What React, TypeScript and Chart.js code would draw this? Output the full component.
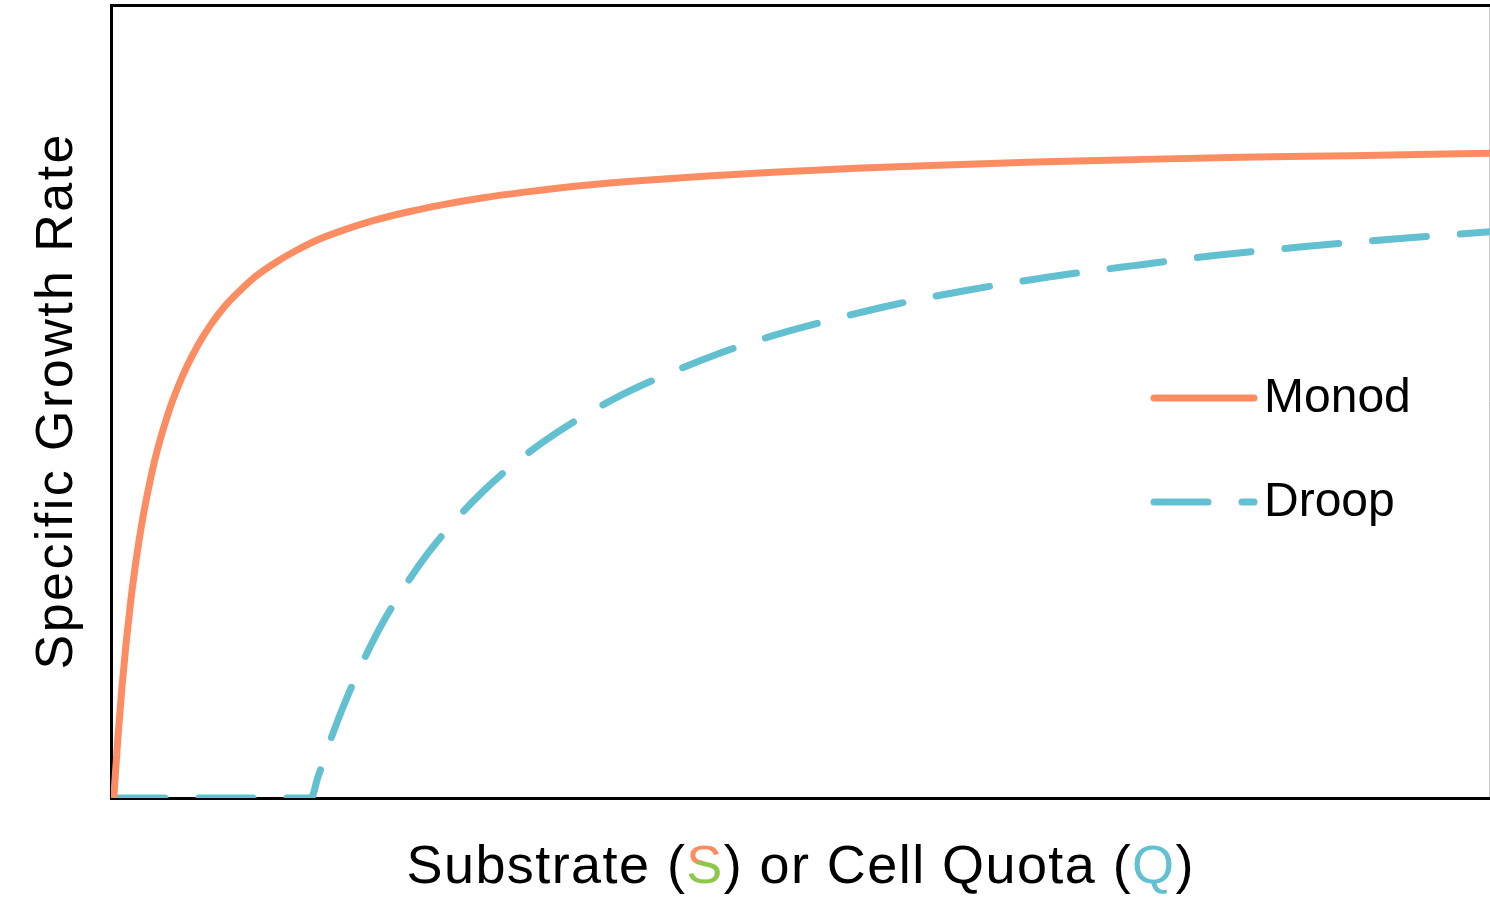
import React, { useEffect, useRef } from "react";
import { Chart, registerables } from "chart.js";

Chart.register(...registerables);

// Monod curve: substrate (S) vs specific growth rate (arbitrary units, 0-100)
const monodX = [0.2, 0.5, 0.8, 1.1, 1.4, 1.7, 2.0, 2.4, 2.8, 3.2, 3.7, 4.2, 4.8, 5.5, 6.3, 7.2, 8.2, 9.3, 10.5, 12, 13.5, 15, 17, 19, 21.5, 24, 27, 30, 34, 38, 43, 48, 54, 60, 67, 74, 82, 90, 100];
const monodY = [0, 7.6, 14.1, 19.6, 24.4, 28.5, 32.1, 36.2, 39.7, 42.8, 46.0, 48.8, 51.6, 54.4, 57.1, 59.6, 61.9, 63.9, 65.8, 67.6, 69.1, 70.4, 71.7, 72.8, 73.9, 74.8, 75.7, 76.4, 77.2, 77.8, 78.4, 78.9, 79.4, 79.8, 80.2, 80.5, 80.8, 81.0, 81.3];

// Droop curve: cell quota (Q) vs specific growth rate
const droopX = [0, 14.5, 15, 15.5, 16, 17, 18, 19, 20, 21.5, 23, 25, 27, 29, 31.5, 34, 37, 40, 44, 48, 52, 57, 62, 68, 74, 80, 87, 93, 100];
const droopY = [0, 0, 2.6, 5.1, 7.7, 12.2, 16.2, 19.8, 23.0, 27.2, 30.9, 35.1, 38.7, 41.8, 45.1, 47.9, 50.8, 53.2, 56.0, 58.3, 60.2, 62.3, 64.0, 65.7, 67.1, 68.4, 69.6, 70.5, 71.4];

const seriesLabels = ["Monod", "Droop"];
const yTitle = "Specific Growth Rate";
const xTitleParts = ["Substrate (", "S", ") or Cell Quota (", "Q", ")"];

const ORANGE = "#FC8D62";
const CYAN = "#62C0D0";
const GREEN = "#8CC84B";
const FONT = '"Liberation Sans", Arial, Helvetica, sans-serif';

function drawSpaced(
  ctx: CanvasRenderingContext2D,
  chars: { ch: string; color: string | null; special?: string }[],
  startX: number,
  baseY: number,
  spacing: number,
  onSpecial?: (ch: string, x: number, w: number) => void
) {
  let x = startX;
  for (const c of chars) {
    const w = ctx.measureText(c.ch).width;
    if (c.special && onSpecial) {
      onSpecial(c.ch, x, w);
    } else {
      ctx.fillStyle = c.color || "#000";
      ctx.fillText(c.ch, x, baseY);
    }
    x += w + spacing;
  }
}

const framePlugin = {
  id: "frame",
  beforeDatasetsDraw(chart: any) {
    const { ctx, chartArea } = chart;
    const { left, top, right, bottom } = chartArea;
    ctx.save();
    ctx.strokeStyle = "#c8c8c8";
    ctx.lineWidth = 1;
    ctx.beginPath();
    ctx.moveTo(right - 0.5, top);
    ctx.lineTo(right - 0.5, bottom);
    ctx.stroke();
    ctx.strokeStyle = "#000";
    ctx.lineWidth = 3;
    ctx.lineCap = "square";
    ctx.beginPath();
    ctx.moveTo(right, top + 0.5);
    ctx.lineTo(left + 0.5, top + 0.5);
    ctx.lineTo(left + 0.5, bottom + 0.5);
    ctx.lineTo(right, bottom + 0.5);
    ctx.stroke();
    ctx.restore();
  },
  afterDraw(chart: any) {
    const { ctx } = chart;
    ctx.save();
    // Legend
    const ds = chart.data.datasets;
    const legendX0 = 1154;
    const legendX1 = 1254;
    const rows = [398, 502];
    ctx.font = `48px ${FONT}`;
    ctx.textBaseline = "middle";
    ds.forEach((d: any, i: number) => {
      const y = rows[i];
      ctx.strokeStyle = d.borderColor;
      ctx.lineWidth = d.borderWidth;
      ctx.lineCap = "round";
      ctx.setLineDash(d.borderDash || []);
      ctx.beginPath();
      ctx.moveTo(legendX0, y);
      ctx.lineTo(legendX1, y);
      ctx.stroke();
      ctx.setLineDash([]);
      ctx.fillStyle = "#000";
      ctx.fillText(d.label, 1264, y + 1);
    });

    // X title with coloured letters
    ctx.textBaseline = "alphabetic";
    ctx.font = `54px ${FONT}`;
    const chars: { ch: string; color: string | null; special?: string }[] = [];
    xTitleParts.forEach((p, i) => {
      for (const ch of p) {
        if (i === 1) chars.push({ ch, color: null, special: "S" });
        else if (i === 3) chars.push({ ch, color: CYAN });
        else chars.push({ ch, color: "#000" });
      }
    });
    const natural = chars.reduce((s, c) => s + ctx.measureText(c.ch).width, 0);
    const targetW = 787;
    const sp = (targetW - natural) / (chars.length - 1);
    const baseY = 883;
    drawSpaced(ctx, chars, 800 - targetW / 2, baseY, sp, (ch, x, w) => {
      const g = ctx.createLinearGradient(x, baseY - 39, x + w * 0.25, baseY);
      g.addColorStop(0, ORANGE);
      g.addColorStop(0.47, ORANGE);
      g.addColorStop(0.53, GREEN);
      g.addColorStop(1, GREEN);
      ctx.fillStyle = g;
      ctx.fillText(ch, x, baseY);
    });

    // Y title
    ctx.font = `52px ${FONT}`;
    ctx.translate(72, 402);
    ctx.rotate(-Math.PI / 2);
    const ychars = [...yTitle].map((ch) => ({ ch, color: "#000" }));
    const yNat = ychars.reduce((s, c) => s + ctx.measureText(c.ch).width, 0);
    const yTarget = 535;
    const ysp = (yTarget - yNat) / (ychars.length - 1);
    drawSpaced(ctx, ychars, -yTarget / 2, 0, ysp);
    ctx.restore();
  },
};

export default function App() {
  const ref = useRef<HTMLCanvasElement | null>(null);
  useEffect(() => {
    document.body.style.margin = "0";
    const canvas = ref.current;
    if (!canvas) return;
    const chart = new Chart(canvas, {
      type: "line",
      data: {
        datasets: [
          {
            label: seriesLabels[0],
            data: monodX.map((x, i) => ({ x, y: monodY[i] })),
            borderColor: ORANGE,
            backgroundColor: ORANGE,
            borderWidth: 7,
            pointRadius: 0,
            cubicInterpolationMode: "monotone",
            borderCapStyle: "round",
            borderJoinStyle: "round",
            fill: false,
          },
          {
            label: seriesLabels[1],
            data: droopX.map((x, i) => ({ x, y: droopY[i] })),
            borderColor: CYAN,
            backgroundColor: CYAN,
            borderWidth: 7,
            borderDash: [54, 34],
            pointRadius: 0,
            cubicInterpolationMode: "monotone",
            borderCapStyle: "round",
            borderJoinStyle: "round",
            fill: false,
          },
        ],
      },
      options: {
        animation: false,
        responsive: false,
        devicePixelRatio: 1,
        layout: { padding: { left: 111, top: 5, right: 0, bottom: 104 } },
        plugins: { legend: { display: false }, tooltip: { enabled: false } },
        events: [],
        scales: {
          x: { type: "linear", min: 0, max: 100, display: false },
          y: { type: "linear", min: 0, max: 100, display: false },
        },
      } as any,
      plugins: [framePlugin as any],
    });
    return () => chart.destroy();
  }, []);
  return (
    <div style={{ width: 1490, height: 902, background: "#fff" }}>
      <canvas ref={ref} width={1490} height={902} style={{ display: "block" }} />
    </div>
  );
}
